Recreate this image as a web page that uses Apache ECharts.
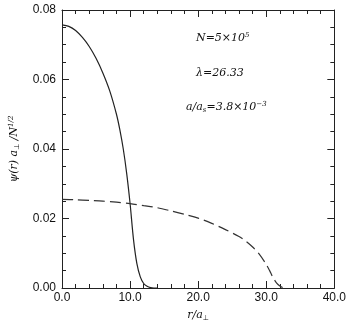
<html>
<head>
<meta charset="utf-8">
<title>psi(r)</title>
<script src="https://cdn.jsdelivr.net/npm/echarts@6/dist/echarts.min.js"></script>
<style>body{margin:0;background:#fff;}</style>
</head>
<body>
<div id="main" style="width:349px;height:327px;"></div>
<script type="text/javascript">
// solid curve (r, psi)
var solidR   = [0, 1, 2, 3, 4, 5, 6, 7, 8, 8.5, 9, 9.5, 10, 10.5, 11, 11.5, 12, 12.5, 13, 13.5, 14];
var solidPsi = [0.0757, 0.0753, 0.0741, 0.0721, 0.0695, 0.0661, 0.0619, 0.0568, 0.0500, 0.0455, 0.0400, 0.0330, 0.0243, 0.0140, 0.0070, 0.0032, 0.0013, 0.0005, 0.0001, 0, 0];
// dashed curve
var dashR   = [0, 2, 4, 6, 8, 10, 12, 14, 16, 18, 20, 22, 24, 26, 27, 28, 29, 30, 30.5, 31, 31.5, 32, 32.5, 33];
var dashPsi = [0.0255, 0.0254, 0.0252, 0.0250, 0.0247, 0.0243, 0.0237, 0.0231, 0.0222, 0.0212, 0.0201, 0.0186, 0.0168, 0.0148, 0.0135, 0.0118, 0.0097, 0.0068, 0.0050, 0.0030, 0.0015, 0.0006, 0.0001, 0];
var xTicks = ['0.0', '10.0', '20.0', '30.0', '40.0'];
var yTicks = ['0.00', '0.02', '0.04', '0.06', '0.08'];

function pairs(xs, ys) {
  var out = [];
  for (var i = 0; i < xs.length; i++) out.push([xs[i], ys[i]]);
  return out;
}

var myChart = echarts.init(document.getElementById('main'));
var tickCommon = {show: true, inside: true, length: 7, lineStyle: {color: '#222'}};
var minorCommon = {show: true, splitNumber: 5, length: 4, lineStyle: {color: '#222'}};
var lineAx = {show: true, onZero: false, lineStyle: {color: '#222', width: 1}};
var labelFont = {color: '#111', fontSize: 12, fontFamily: 'Liberation Sans, Arial, sans-serif'};

var option = {
  animation: false,
  backgroundColor: '#fff',
  grid: {left: 58, right: 11, top: 10, bottom: 37},
  xAxis: [
    {
      type: 'value', min: 0, max: 40, interval: 10,
      axisLine: lineAx, axisTick: tickCommon, minorTick: minorCommon,
      splitLine: {show: false},
      axisLabel: Object.assign({margin: 4, formatter: function (v) { return xTicks[v / 10]; }}, labelFont),
      name: '{i|r/a}{s|⊥}', nameLocation: 'middle', nameGap: 21,
      nameTextStyle: {
        rich: {
          i: {fontFamily: 'DejaVu Serif, serif', fontStyle: 'italic', fontSize: 11, color: '#111'},
          s: {fontFamily: 'DejaVu Sans, sans-serif', fontSize: 7, color: '#111', padding: [6, 0, 0, 0]}
        }
      }
    },
    {
      type: 'value', position: 'top', min: 0, max: 40, interval: 10,
      axisLine: lineAx, axisTick: tickCommon, minorTick: minorCommon,
      splitLine: {show: false}, axisLabel: {show: false}
    }
  ],
  yAxis: [
    {
      type: 'value', min: 0, max: 0.08, interval: 0.02,
      axisLine: lineAx, axisTick: tickCommon,
      minorTick: {show: true, splitNumber: 4, length: 4, lineStyle: {color: '#222'}},
      splitLine: {show: false},
      axisLabel: Object.assign({margin: 6, formatter: function (v) { return yTicks[Math.round(v / 0.02)]; }}, labelFont),
      name: '{i|ψ(r) a}{s|⊥}{i| /N}{p|1/2}', nameLocation: 'middle', nameGap: 41, nameRotate: 90,
      nameTextStyle: {
        rich: {
          i: {fontFamily: 'DejaVu Serif, serif', fontStyle: 'italic', fontSize: 11, color: '#111'},
          s: {fontFamily: 'DejaVu Sans, sans-serif', fontSize: 7, color: '#111', padding: [6, 0, 0, 0]},
          p: {fontFamily: 'DejaVu Serif, serif', fontStyle: 'italic', fontSize: 7, color: '#111', padding: [0, 0, 6, 0]}
        }
      }
    },
    {
      type: 'value', position: 'right', min: 0, max: 0.08, interval: 0.02,
      axisLine: lineAx, axisTick: tickCommon,
      minorTick: {show: true, splitNumber: 4, length: 4, lineStyle: {color: '#222'}},
      splitLine: {show: false}, axisLabel: {show: false}
    }
  ],
  graphic: [
    {
      type: 'text', left: 196, top: 32,
      style: {
        text: '{i|N=5×10}{p|5}',
        rich: {
          i: {fontFamily: 'DejaVu Serif, serif', fontStyle: 'italic', fontSize: 11, fill: '#111'},
          p: {fontFamily: 'DejaVu Serif, serif', fontStyle: 'italic', fontSize: 7, fill: '#111', padding: [0, 0, 6, 0]}
        }
      }
    },
    {
      type: 'text', left: 196, top: 68,
      style: {text: 'λ=26.33', font: 'italic 11px DejaVu Serif, serif', fill: '#111'}
    },
    {
      type: 'text', left: 186, top: 101,
      style: {
        text: '{i|a/a}{s|s}{i|=3.8×10}{p|−3}',
        rich: {
          i: {fontFamily: 'DejaVu Serif, serif', fontStyle: 'italic', fontSize: 11, fill: '#111'},
          s: {fontFamily: 'DejaVu Serif, serif', fontStyle: 'italic', fontSize: 7, fill: '#111', padding: [6, 0, 0, 0]},
          p: {fontFamily: 'DejaVu Serif, serif', fontStyle: 'italic', fontSize: 7, fill: '#111', padding: [0, 0, 6, 0]}
        }
      }
    }
  ],
  series: [
    {
      type: 'line', smooth: 0.3, symbol: 'none',
      data: pairs(solidR, solidPsi),
      lineStyle: {color: '#222', width: 1.2}
    },
    {
      type: 'line', smooth: 0.3, symbol: 'none',
      data: pairs(dashR, dashPsi),
      lineStyle: {color: '#333', width: 1.2, type: [11, 5]}
    }
  ]
};
myChart.setOption(option);
</script>
</body>
</html>
